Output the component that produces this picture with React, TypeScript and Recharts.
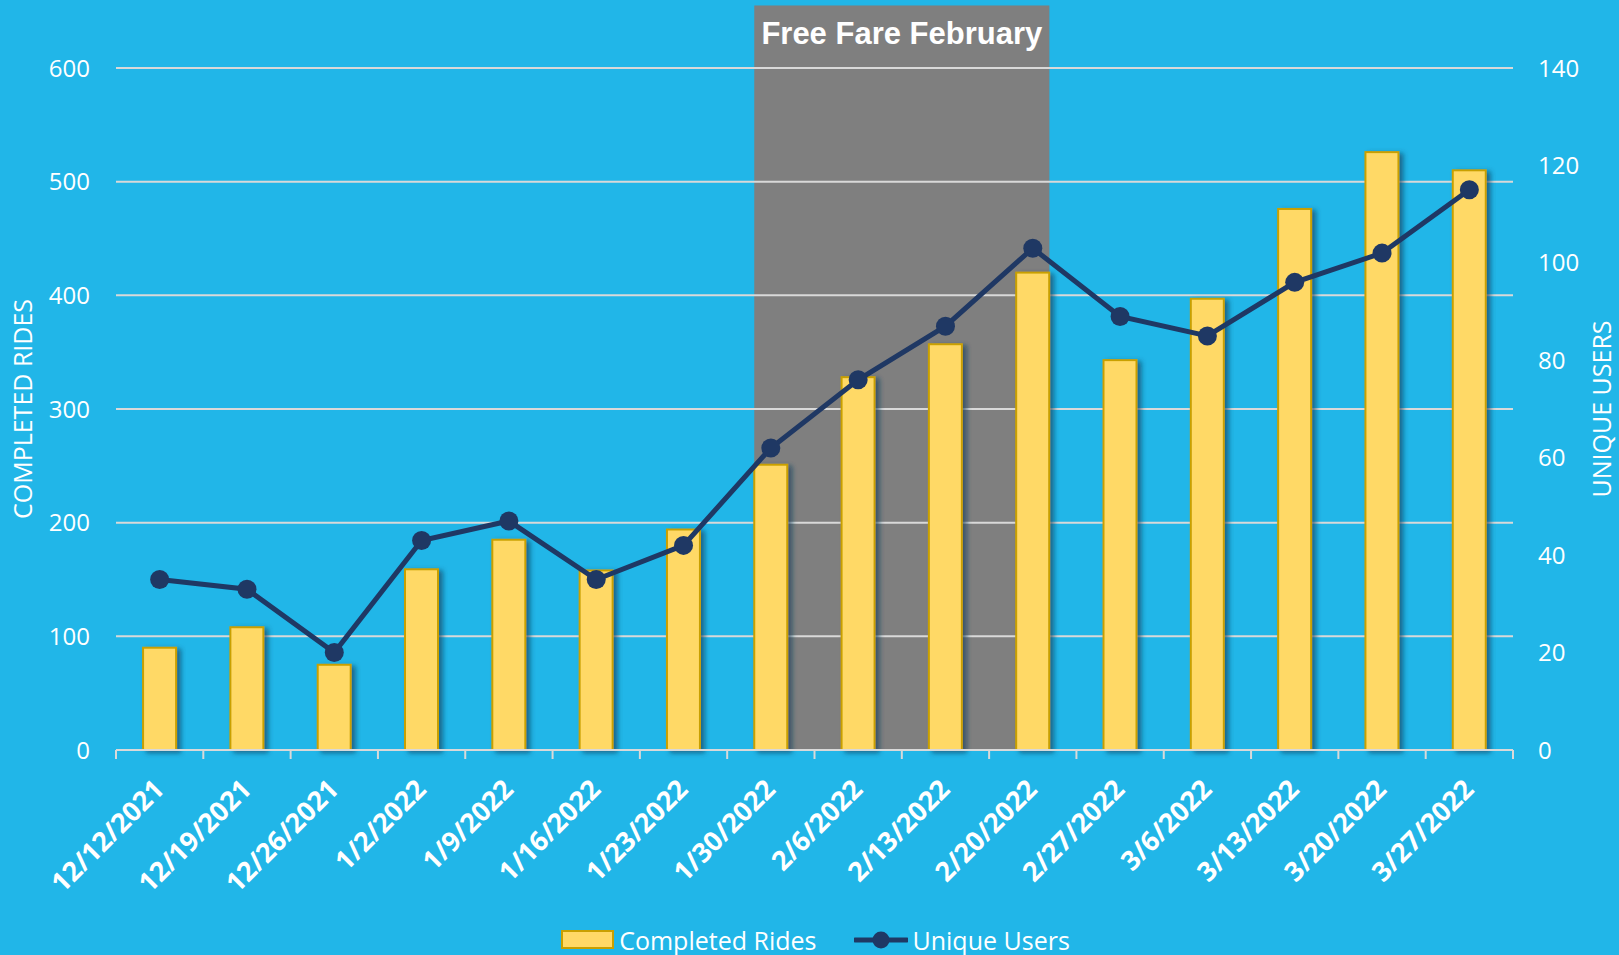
import React from "react";
import {
  ComposedChart, Bar, Line, XAxis, YAxis, CartesianGrid, ReferenceArea, Legend,
} from "recharts";

// weekly ride data
const weeks = [
  "12/12/2021", "12/19/2021", "12/26/2021", "1/2/2022", "1/9/2022", "1/16/2022",
  "1/23/2022", "1/30/2022", "2/6/2022", "2/13/2022", "2/20/2022", "2/27/2022",
  "3/6/2022", "3/13/2022", "3/20/2022", "3/27/2022",
];
const completedRides = [90, 108, 75, 159, 185, 158, 194, 251, 328, 357, 420, 343, 397, 476, 526, 510];
const uniqueUsers = [35, 33, 20, 43, 47, 35, 42, 62, 76, 87, 103, 89, 85, 96, 102, 115];

const ridesTicks = [0, 100, 200, 300, 400, 500, 600];
const usersTicks = [0, 20, 40, 60, 80, 100, 120, 140];

const freeFareStart = "1/30/2022";
const freeFareEnd = "2/20/2022";
const freeFareTitle = "Free Fare February";
const freeFareTop = 655; // band reaches above the plot

const data = weeks.map((week, i) => ({
  week,
  rides: completedRides[i],
  users: uniqueUsers[i],
}));

const BG = "#21B6E8";
const GRID = "#D9D9D9";
const BAR_FILL = "#FFD966";
const BAR_EDGE = "#C9A000";
const NAVY = "#1F3864";
const FONT = "'Open Sans', sans-serif";
const GAP = 0.31;

const spanWeeks = weeks.indexOf(freeFareEnd) - weeks.indexOf(freeFareStart) + 1;

const FareBand = (p: any) => {
  const inset = (p.width / spanWeeks) * GAP;
  const x = p.x + inset;
  const w = p.width - inset * 2;
  return (
    <g>
      <rect x={x} y={p.y} width={w} height={p.height} fill="#7F7F7F" />
      <text
        x={x + w / 2}
        y={p.y + 39}
        textAnchor="middle"
        fill="#fff"
        fontSize={31}
        fontWeight={700}
        fontFamily="'Liberation Sans', Arial, sans-serif"
      >
        {freeFareTitle}
      </text>
    </g>
  );
};

const ShadowBar = (p: any) => (
  <rect
    x={p.x}
    y={p.y}
    width={p.width}
    height={p.height}
    fill={BAR_FILL}
    stroke={BAR_EDGE}
    strokeWidth={2}
    filter="url(#barShadow)"
  />
);

const WeekTick = (props: any) => {
  const { x, y, payload, index } = props;
  const band = payload.offset ? payload.offset * 2 : 0;
  const tx = x + 6;
  const ty = y + 41;
  return (
    <g>
      <line x1={x - band / 2} y1={y} x2={x - band / 2} y2={y + 9} stroke={GRID} strokeWidth={2} />
      {index === weeks.length - 1 && (
        <line x1={x + band / 2} y1={y} x2={x + band / 2} y2={y + 9} stroke={GRID} strokeWidth={2} />
      )}
      <text
        x={tx}
        y={ty}
        transform={`rotate(-45 ${tx} ${ty})`}
        textAnchor="end"
        fill="#fff"
        fontSize={27}
        fontWeight={700}
        fontFamily={FONT}
      >
        {payload.value}
      </text>
    </g>
  );
};

const LegendContent = () => (
  <div
    style={{
      display: "flex", justifyContent: "center", alignItems: "center", height: 30,
      color: "#fff", fontSize: 25, fontFamily: FONT, paddingLeft: 12,
    }}
  >
    <span style={{ display: "flex", alignItems: "center", marginRight: 38 }}>
      <svg width={54} height={20}>
        <rect x={1} y={1} width={51} height={17} fill={BAR_FILL} stroke={BAR_EDGE} strokeWidth={2} />
      </svg>
      <span style={{ marginLeft: 4 }}>Completed Rides</span>
    </span>
    <span style={{ display: "flex", alignItems: "center" }}>
      <svg width={54} height={20}>
        <line x1={1} y1={10} x2={53} y2={10} stroke={NAVY} strokeWidth={5} strokeLinecap="round" />
        <circle cx={27} cy={10} r={8.5} fill={NAVY} />
      </svg>
      <span style={{ marginLeft: 4 }}>Unique Users</span>
    </span>
  </div>
);

export default function App() {
  return (
    <div style={{ width: 1619, height: 955, background: BG, position: "relative" }}>
      <style>{"body{margin:0}"}</style>
      <ComposedChart
        width={1619}
        height={955}
        data={data}
        margin={{ top: 68, right: 0, bottom: 0, left: 0 }}
        barCategoryGap={`${GAP * 100}%`}
      >
        <defs>
          <filter id="barShadow" x="-30%" y="-10%" width="160%" height="120%">
            <feDropShadow dx={4} dy={2} stdDeviation={2.5} floodColor="#0B3F5C" floodOpacity={0.65} />
          </filter>
        </defs>
        <ReferenceArea
          yAxisId="left"
          x1={freeFareStart}
          x2={freeFareEnd}
          y1={0}
          y2={freeFareTop}
          ifOverflow="visible"
          shape={FareBand}
          zIndex={-200}
        />
        <CartesianGrid yAxisId="left" vertical={false} stroke={GRID} strokeWidth={2} />
        <XAxis
          dataKey="week"
          interval={0}
          height={175}
          tickSize={0}
          tickMargin={0}
          tickLine={false}
          axisLine={{ stroke: GRID, strokeWidth: 2 }}
          tick={<WeekTick />}
        />
        <YAxis
          yAxisId="left"
          width={116}
          domain={[0, 600]}
          ticks={ridesTicks}
          axisLine={false}
          tickLine={false}
          tickSize={0}
          tickMargin={26}
          tick={{ fill: "#fff", fontSize: 24, fontFamily: FONT }}
          label={{
            value: "COMPLETED RIDES", angle: -90, position: "insideLeft", offset: 23,
            style: { textAnchor: "middle", fill: "#fff", fontSize: 25, fontFamily: FONT },
          }}
        />
        <YAxis
          yAxisId="right"
          orientation="right"
          width={106}
          domain={[0, 140]}
          ticks={usersTicks}
          axisLine={false}
          tickLine={false}
          tickSize={0}
          tickMargin={25}
          tick={{ fill: "#fff", fontSize: 24, fontFamily: FONT, textAnchor: "start" }}
          label={{
            value: "UNIQUE USERS", angle: -90, position: "insideRight", offset: 17,
            style: { textAnchor: "middle", fill: "#fff", fontSize: 25, fontFamily: FONT },
          }}
        />
        <Bar
          yAxisId="left"
          dataKey="rides"
          name="Completed Rides"
          shape={ShadowBar}
          isAnimationActive={false}
        />
        <Line
          yAxisId="right"
          type="linear"
          dataKey="users"
          name="Unique Users"
          stroke={NAVY}
          strokeWidth={5}
          dot={{ r: 9.5, fill: NAVY, stroke: NAVY, strokeWidth: 0 }}
          activeDot={false}
          isAnimationActive={false}
        />
        <Legend verticalAlign="bottom" content={<LegendContent />} />
      </ComposedChart>
    </div>
  );
}
